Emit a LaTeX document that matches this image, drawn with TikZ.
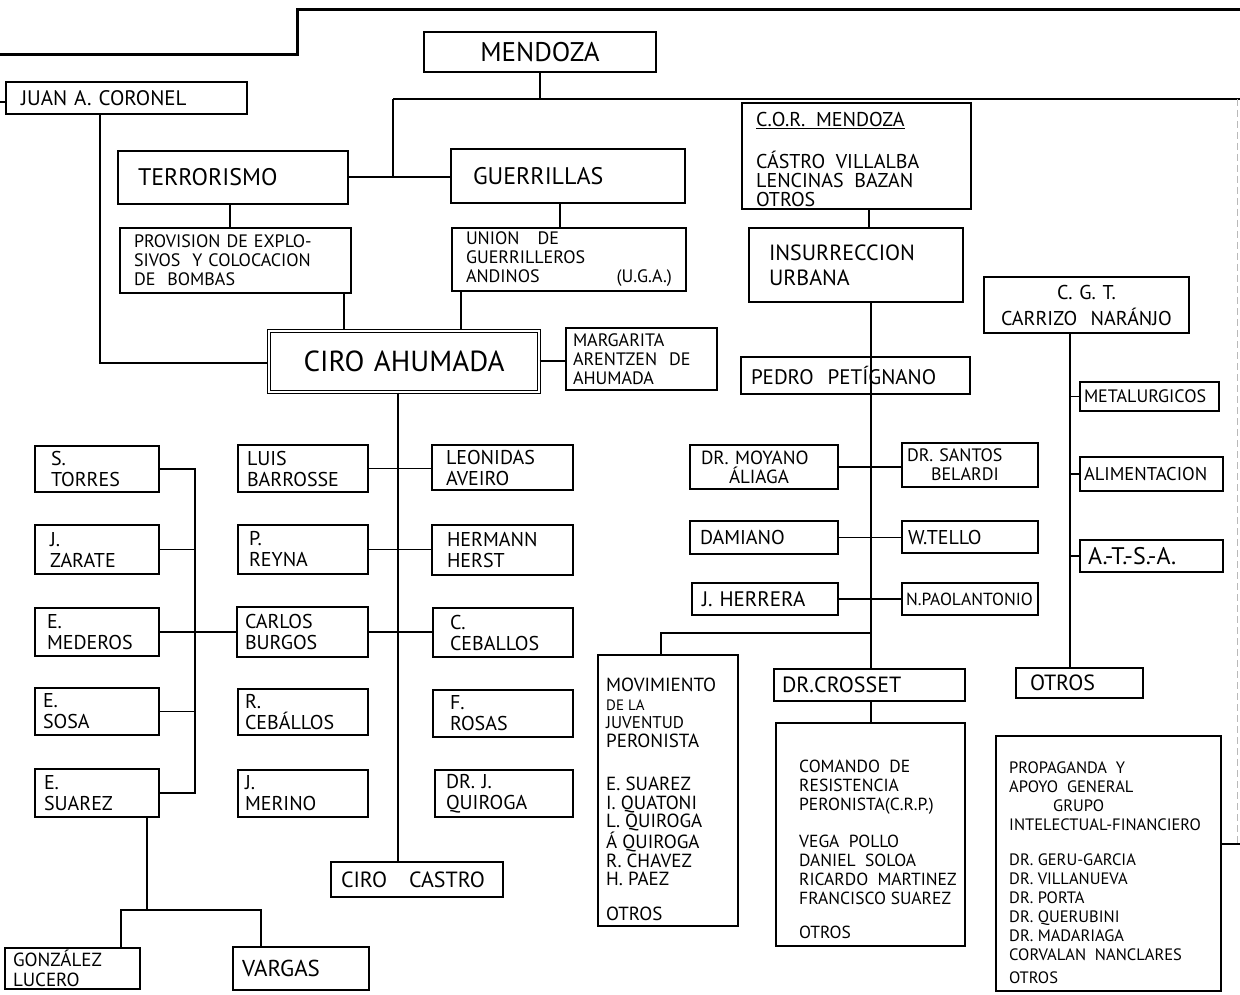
\documentclass[tikz,border=0pt]{standalone}
\usepackage{fontspec}
\setmainfont{PT Sans}
\newcommand\fs[2]{\fontsize{#1}{#2}\selectfont}
\tikzset{
  bx/.style={draw, rectangle, line width=1.6pt, inner ysep=0pt, font=\fs{20}{21}},
  ln/.style={line width=1.5pt},
  heavy/.style={line width=3pt},
  faint/.style={line width=1pt, gray!55, dash pattern=on 7pt off 4pt},
  txt/.style={anchor=north west, inner sep=0pt, align=left},
}
% \bx[opts]{name}{x1}{y1}{x2}{y2}{pad}{text}
\newcommand\bx[8][]{%
  \pgfmathsetmacro\bxw{#5-#3}%
  \pgfmathsetmacro\bxh{#6-#4}%
  \pgfmathsetmacro\bxcx{(#3+#5)/2}%
  \pgfmathsetmacro\bxcy{(#4+#6)/2}%
  \pgfmathsetmacro\bxtw{#5-#3-2*#7}%
  \node[bx, inner xsep=#7pt, minimum width=\bxw pt, minimum height=\bxh pt, text width=\bxtw pt, align=left, #1] (#2) at (\bxcx,\bxcy) {#8};}
\begin{document}
\begin{tikzpicture}[x=1pt,y=-1pt]
\fill[white] (0,0) rectangle (1240,995);
\useasboundingbox (0,0) rectangle (1240,995);

% ---------- boxes ----------
\bx[align=center, font=\fs{27}{28}]{mendoza}{424}{32}{656}{72}{8}{MENDOZA}
\bx[font=\fs{21}{22}]{coronel}{6}{82}{247}{114}{15}{JUAN~A.~CORONEL}
\bx[font=\fs{24}{25}]{terror}{118}{151}{348}{204}{20}{TERRORISMO}
\bx[font=\fs{24}{25}]{guerr}{451}{149}{685}{203}{22}{GUERRILLAS}
\bx[font=\fs{18}{19}]{prov}{120}{228}{351}{293}{14}{PROVISION~DE~EXPLO-\\SIVOS~~Y~COLOCACION\\DE~~BOMBAS}
\bx[font=\fs{18}{19}]{uga}{452}{228}{686}{291}{14}{UNION~~~DE\\GUERRILLEROS\\ANDINOS\hfill(U.G.A.)}
\bx[double, double distance=2.6pt, line width=1.1pt, align=center, font=\fs{29}{30}]{ciro}{269}{331}{539}{392}{8}{CIRO~AHUMADA}
\bx[font=\fs{18}{19}]{marg}{566}{328}{717}{390}{7}{MARGARITA\\ARENTZEN~~DE\\AHUMADA}

\bx{cor}{742}{103}{971}{209}{8}{}
\node[txt, font=\fs{20}{19}] (cort) at (756,112) {\underline{C.O.R.~~MENDOZA}\\[21pt]CÁSTRO~~VILLALBA\\LENCINAS~~BAZAN\\OTROS};
\bx[font=\fs{22}{25}]{insur}{749}{228}{963}{302}{20}{INSURRECCION\\URBANA}
\bx[align=center, font=\fs{20}{26}]{cgt}{984}{277}{1189}{333}{6}{C.~G.~T.\\CARRIZO~~NARÁNJO}
\bx[font=\fs{21}{22}]{pedro}{741}{357}{970}{394}{10}{PEDRO~~PETÍGNANO}
\bx[font=\fs{19}{19}]{moyano}{690}{445}{838}{489}{11}{DR.~MOYANO\\\hspace*{28pt}ÁLIAGA}
\bx[font=\fs{18}{19}]{santos}{902}{443}{1038}{487}{5}{DR.~SANTOS\\\hspace*{24pt}BELARDI}
\bx[font=\fs{20}{21}]{damiano}{690}{521}{838}{554}{10}{DAMIANO}
\bx[font=\fs{20}{21}]{tello}{902}{521}{1038}{553}{6}{W.TELLO}
\bx[font=\fs{21}{22}]{herrera}{692}{583}{838}{615}{10}{J.~HERRERA}
\bx[font=\fs{17.5}{18}]{paol}{902}{583}{1038}{615}{4}{N.PAOLANTONIO}
\bx[font=\fs{22}{23}]{crosset}{774}{669}{965}{701}{8}{DR.CROSSET}

\bx{mov}{598}{655}{738}{926}{8}{}
\node[txt, font=\fs{19}{18.5}] (movt) at (606,678) {MOVIMIENTO\\{\fs{15}{18.5}DE~LA}\\{\fs{17}{18.5}JUVENTUD}\\PERONISTA\\[25pt]E.~SUAREZ\\I.~QUATONI\\L.~QUIROGA\\Á~QUIROGA\\R.~CHAVEZ\\H.~PAEZ\\[16pt]OTROS};
\bx{comando}{776}{723}{965}{946}{8}{}
\node[txt, font=\fs{17.5}{19}] (comt) at (799,760) {COMANDO~~DE\\RESISTENCIA\\PERONISTA(C.R.P.)\\[18pt]VEGA~~POLLO\\DANIEL~~SOLOA\\RICARDO~~MARTINEZ\\FRANCISCO~SUAREZ\\[15pt]OTROS};
\bx[font=\fs{22}{23}]{otros}{1016}{668}{1143}{698}{14}{OTROS}
\bx{prop}{996}{736}{1221}{991}{8}{}
\node[txt, font=\fs{16.5}{19}] (propt) at (1009,762) {PROPAGANDA~~Y\\APOYO~~GENERAL\\\hspace*{44pt}GRUPO\\INTELECTUAL-FINANCIERO\\[16pt]DR.~GERU-GARCIA\\DR.~VILLANUEVA\\DR.~PORTA\\DR.~QUERUBINI\\DR.~MADARIAGA\\CORVALAN~~NANCLARES\\[4pt]OTROS};
\bx[font=\fs{18}{19}]{metal}{1080}{382}{1219}{411}{4}{METALURGICOS}
\bx[font=\fs{18.5}{19}]{alim}{1080}{457}{1223}{491}{4}{ALIMENTACION}
\bx[font=\fs{24}{25}]{atsa}{1080}{540}{1223}{572}{8}{A.-T.-S.-A.}

\bx{storres}{35}{446}{159}{492}{16}{S.\\TORRES}
\bx{jzarate}{35}{525}{159}{574}{15}{J.\\ZARATE}
\bx{emed}{35}{608}{159}{656}{12}{E.\\MEDEROS}
\bx{esosa}{35}{688}{159}{735}{8}{E.\\SOSA}
\bx{esuarez}{35}{769}{159}{817}{9}{E.\\SUAREZ}
\bx{barrosse}{238}{445}{368}{492}{9}{LUIS\\BARROSSE}
\bx{reyna}{238}{525}{368}{574}{11}{P.\\REYNA}
\bx{burgos}{237}{607}{368}{657}{8}{CARLOS\\BURGOS}
\bx{rceb}{238}{689}{368}{735}{7}{R.\\CEBÁLLOS}
\bx{merino}{238}{770}{368}{817}{7}{J.\\MERINO}
\bx{aveiro}{432}{445}{573}{490}{14}{LEONIDAS\\AVEIRO}
\bx{herst}{432}{525}{573}{575}{15}{HERMANN\\HERST}
\bx{cceb}{433}{608}{573}{657}{17}{C.\\CEBALLOS}
\bx{rosas}{433}{690}{573}{737}{17}{F.\\ROSAS}
\bx{quiroga}{435}{770}{573}{817}{11}{DR.~J.\\QUIROGA}
\bx[font=\fs{19}{19.5}]{gonz}{5}{948}{140}{989}{8}{GONZÁLEZ\\LUCERO}
\bx[font=\fs{23}{24}]{vargas}{233}{947}{369}{990}{9}{VARGAS}
\bx[font=\fs{22}{23}]{ciroc}{331}{862}{503}{897}{10}{CIRO~~~CASTRO}

% ---------- connectors ----------
\coordinate (t0) at (0,55); \coordinate (t1) at (297,55);
\coordinate (t2) at (297,10); \coordinate (t3) at (1240,10);
\draw[heavy] (t0) -- (t1) -- (t2) -- (t3);

\coordinate (hL) at (393,99); \coordinate (hR) at (1240,99); \coordinate (hJ) at (393,177);
\draw[ln] (hL) -- (hR);
\draw[ln] (mendoza.south) -- (mendoza.south |- hL);
\draw[ln] (hL) -- (hJ);
\draw[ln] (terror.east |- hJ) -- (guerr.west |- hJ);

\coordinate (ct) at (0,102);
\draw[ln] (ct) -- (coronel.west |- ct);
\coordinate (x100) at (100,363);
\draw[ln] (coronel.south -| x100) -- (x100) -- (ciro.west |- x100);

\coordinate (x230) at (230,0); \draw[ln] (terror.south -| x230) -- (prov.north -| x230);
\coordinate (x560) at (560,0); \draw[ln] (guerr.south -| x560) -- (uga.north -| x560);
\coordinate (x344) at (344,0); \draw[ln] (prov.south -| x344) -- (ciro.north -| x344);
\coordinate (x461) at (461,0); \draw[ln] (uga.south -| x461) -- (ciro.north -| x461);
\coordinate (ym) at (0,361); \draw[ln] (ciro.east |- ym) -- (marg.west |- ym);

\coordinate (x398) at (398,0); \draw[ln] (ciro.south -| x398) -- (ciroc.north -| x398);
\draw[ln] (barrosse.east) -- (barrosse.east -| aveiro.west);
\draw[ln] (reyna.east) -- (reyna.east -| herst.west);
\draw[ln] (burgos.east) -- (burgos.east -| cceb.west);
\draw[ln] (emed.east) -- (emed.east -| burgos.west);

\coordinate (x195) at (195,0);
\draw[ln] (storres.east) -- (storres.east -| x195) -- (esuarez.east -| x195) -- (esuarez.east);
\draw[ln] (jzarate.east) -- (jzarate.east -| x195);
\draw[ln] (esosa.east) -- (esosa.east -| x195);
\coordinate (sb) at (147,910); \coordinate (sl) at (121,910); \coordinate (sr) at (261,910);
\draw[ln] (esuarez.south -| sb) -- (sb);
\draw[ln] (gonz.north -| sl) -- (sl) -- (sr) -- (vargas.north -| sr);

\coordinate (x869) at (869,0); \draw[ln] (cor.south -| x869) -- (insur.north -| x869);
\coordinate (x871) at (871,0); \draw[ln] (insur.south -| x871) -- (crosset.north -| x871);
\draw[ln] (moyano.east) -- (moyano.east -| santos.west);
\draw[ln] (damiano.east) -- (damiano.east -| tello.west);
\draw[ln] (herrera.east) -- (herrera.east -| paol.west);
\coordinate (mj) at (871,633); \coordinate (mjl) at (661,633);
\draw[ln] (mj) -- (mjl) -- (mov.north -| mjl);
\draw[ln] (crosset.south -| x871) -- (comando.north -| x871);

\coordinate (x1070) at (1070,0);
\draw[ln] (cgt.south -| x1070) -- (otros.north -| x1070);
\draw[ln] (metal.west -| x1070) -- (metal.west);
\draw[ln] (alim.west -| x1070) -- (alim.west);
\draw[ln] (atsa.west -| x1070) -- (atsa.west);

\coordinate (pr) at (1240,844); \draw[ln] (prop.east |- pr) -- (pr);
\coordinate (fv1) at (1237,99); \coordinate (fv2) at (1237,844);
\draw[faint] (fv1) -- (fv2);
\end{tikzpicture}
\end{document}
